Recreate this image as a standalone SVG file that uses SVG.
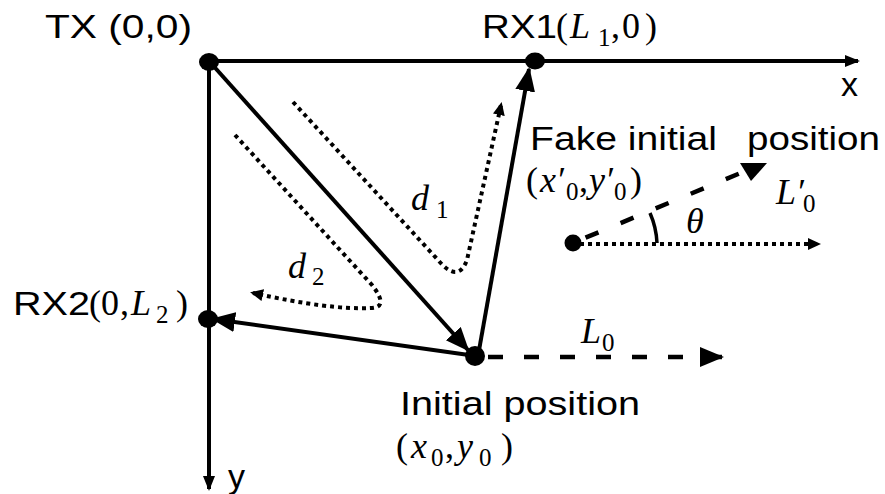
<svg xmlns="http://www.w3.org/2000/svg" width="885" height="494" viewBox="0 0 885 494">
<style>
.lbl{font-family:"Liberation Sans",Arial,sans-serif;font-size:34px;fill:#000}
.m{font-family:"Liberation Serif","Times New Roman",serif;font-size:36px;fill:#000}
.mi{font-style:italic}
.sub{font-size:25px}
.solid{stroke:#000;stroke-width:4;fill:none}
.dash{stroke:#000;stroke-width:4.5;fill:none}
.dot{stroke:#000;stroke-width:4;fill:none;stroke-dasharray:4 4}
.pt{fill:#000}
</style>
<defs>
<marker id="ah" markerUnits="userSpaceOnUse" markerWidth="26" markerHeight="22" refX="22" refY="10" orient="auto" viewBox="0 0 26 22"><path d="M0,0 L24,10 L0,20 z" fill="#000"/></marker>
<marker id="ax" markerUnits="userSpaceOnUse" markerWidth="16" markerHeight="14" refX="13" refY="6" orient="auto" viewBox="0 0 16 14"><path d="M0,0 L15,6 L0,12 z" fill="#000"/></marker>
<marker id="ad" markerUnits="userSpaceOnUse" markerWidth="14" markerHeight="14" refX="10" refY="6" orient="auto" viewBox="0 0 14 14"><path d="M0,0 L13,6 L0,12 z" fill="#000"/></marker>
</defs>

<g id="connectors">
<line class="solid" x1="209" y1="61" x2="858" y2="61" marker-end="url(#ax)"/>
<line class="solid" x1="209" y1="61" x2="209" y2="489" marker-end="url(#ax)"/>
<line class="solid" x1="209" y1="61" x2="468" y2="350" marker-end="url(#ah)"/>
<line class="solid" x1="476" y1="356" x2="213" y2="319" marker-end="url(#ah)"/>
<line class="solid" x1="478" y1="356" x2="529" y2="69" marker-end="url(#ah)"/>
<line class="dash" x1="480" y1="357" x2="722" y2="357" stroke-dasharray="0 8 15 21 15 21 15 21 15 21 15 21 15 21" marker-end="url(#ah)"/>
<line class="dash" x1="580" y1="240" x2="743" y2="172" stroke-dasharray="0 6 14 18"/>
<path d="M740,163 L767,163 L751,181 z" fill="#000"/>
<line class="dot" x1="580" y1="244" x2="818" y2="244" marker-end="url(#ad)"/>
<path d="M650,213 A84,84 0 0 1 657,243" fill="none" stroke="#000" stroke-width="3.5"/>
<path class="dot" d="M293,102 L438,260 Q458,284 467,260 L501,105" marker-end="url(#ad)"/>
<path class="dot" d="M235,135 L372,285 Q390,308 370,308 Q330,310 253,293" marker-end="url(#ad)"/>
</g>

<g id="tx">
<ellipse class="pt" cx="209" cy="62" rx="10" ry="9"/>
<text class="lbl" x="45" y="38" textLength="147" lengthAdjust="spacingAndGlyphs">TX (0,0)</text>
</g>

<g id="rx1">
<ellipse class="pt" cx="535" cy="61" rx="10" ry="8.5"/>
<text class="lbl" x="482" y="38" textLength="75" lengthAdjust="spacingAndGlyphs">RX1</text>
<text class="m"><tspan x="556" y="38">(</tspan><tspan class="mi" x="570" y="38">L</tspan><tspan class="sub" x="598" y="46">1</tspan><tspan x="611" y="38">,</tspan><tspan x="622" y="38">0</tspan><tspan x="645" y="38">)</tspan></text>
</g>

<g id="rx2">
<ellipse class="pt" cx="208" cy="319" rx="10" ry="9"/>
<text class="lbl" x="13" y="315" textLength="77" lengthAdjust="spacingAndGlyphs">RX2</text>
<text class="m"><tspan x="89" y="315">(</tspan><tspan x="101" y="315">0</tspan><tspan x="120" y="315">,</tspan><tspan class="mi" x="131" y="315">L</tspan><tspan class="sub" x="156" y="323">2</tspan><tspan x="176" y="315">)</tspan></text>
</g>

<g id="initial">
<ellipse class="pt" cx="475" cy="356" rx="10" ry="10"/>
<text class="lbl" x="400" y="415" textLength="240" lengthAdjust="spacingAndGlyphs">Initial position</text>
<text class="m"><tspan x="396" y="458">(</tspan><tspan class="mi" x="411" y="458">x</tspan><tspan class="sub" x="431" y="466">0</tspan><tspan x="445" y="458">,</tspan><tspan class="mi" x="457" y="458">y</tspan><tspan class="sub" x="479" y="466">0</tspan><tspan x="501" y="458">)</tspan></text>
<text class="m"><tspan class="mi" x="581" y="343">L</tspan><tspan class="sub" x="602" y="351">0</tspan></text>
</g>

<g id="fake">
<ellipse class="pt" cx="573" cy="243" rx="8.5" ry="8.5"/>
<text class="lbl" x="530" y="150" textLength="187" lengthAdjust="spacingAndGlyphs">Fake initial</text>
<text class="lbl" x="747" y="150" textLength="133" lengthAdjust="spacingAndGlyphs">position</text>
<text class="m"><tspan x="526" y="192">(</tspan><tspan class="mi" x="540" y="192">x′</tspan><tspan class="sub" x="566" y="200">0</tspan><tspan x="579" y="192">,</tspan><tspan class="mi" x="589" y="192">y′</tspan><tspan class="sub" x="614" y="200">0</tspan><tspan x="630" y="192">)</tspan></text>
<text class="m"><tspan class="mi" x="776" y="204">L′</tspan><tspan class="sub" x="803" y="212">0</tspan></text>
<text class="m mi" x="686" y="233" font-size="30">θ</text>
</g>

<g id="labels">
<text class="lbl" x="841" y="96" font-size="32">x</text>
<text class="lbl" x="228" y="488" font-size="32">y</text>
<text class="m"><tspan class="mi" x="411" y="210">d</tspan><tspan class="sub" x="436" y="218">1</tspan></text>
<text class="m"><tspan class="mi" x="288" y="278">d</tspan><tspan class="sub" x="312" y="285">2</tspan></text>
</g>
</svg>
